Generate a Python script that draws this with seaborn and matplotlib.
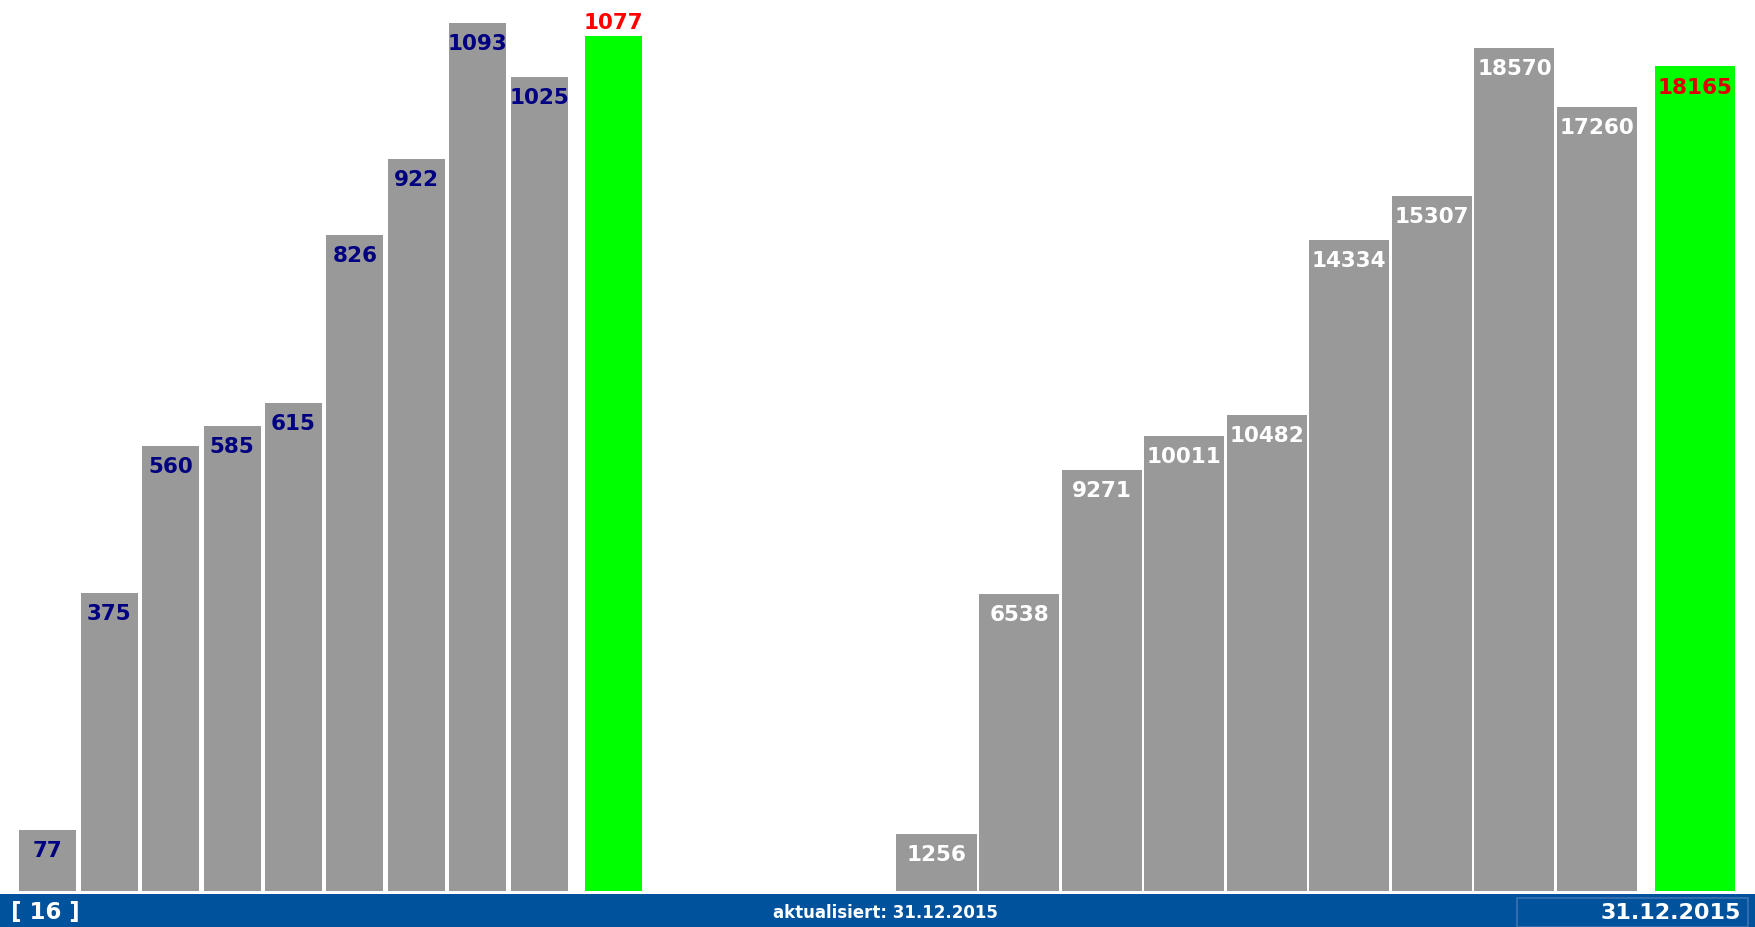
import matplotlib
matplotlib.use("Agg")
import matplotlib.pyplot as plt
from matplotlib.patches import Rectangle
import numpy as np
import pandas as pd
import seaborn as sns

# values
left_values = [77, 375, 560, 585, 615, 826, 922, 1093, 1025]
left_current = 1077
right_values = [1256, 6538, 9271, 10011, 10482, 14334, 15307, 18570, 17260]
right_current = 18165

page_label = "[ 16 ]"
updated_label = "aktualisiert: 31.12.2015"
date_label = "31.12.2015"

GRAY = "#999999"
GREEN = "#00FF00"
NAVY = "#000080"
RED = "#FF0000"
BAND = "#00529C"

sns.set_theme(style="white")
plt.rcParams["font.family"] = ["DejaVu Sans"]

W, H = 1756, 928
fig = plt.figure(figsize=(W / 100, H / 100), dpi=100)
fig.patch.set_facecolor("white")


def px_axes(x0, x1, y_top, y_bot):
    # axes box given in pixel coordinates (y measured from the top)
    return fig.add_axes([x0 / W, (H - y_bot) / H, (x1 - x0) / W, (y_bot - y_top) / H])


def draw_panel(ax, values, current, gap, width, label_color, ylim, xlim):
    n = len(values)
    pos = list(np.arange(n, dtype=float)) + [n - 1 + gap]
    df = pd.DataFrame({
        "pos": pos,
        "value": values + [current],
        "kind": ["past"] * n + ["now"],
    })
    sns.barplot(data=df, x="pos", y="value", hue="kind",
                palette={"past": GRAY, "now": GREEN}, native_scale=True,
                dodge=False, width=width, saturation=1, linewidth=0,
                legend=False, ax=ax)
    for p, v in zip(pos[:n], values):
        ax.annotate(str(v), (p, v), xytext=(0, -14.5), textcoords="offset points",
                    ha="center", va="center", color=label_color,
                    fontsize=15.5, fontweight="bold")
    ax.set_xlim(*xlim)
    ax.set_ylim(*ylim)
    ax.set_axis_off()
    return pos[-1]


ax_l = px_axes(0, 660, 0, 892)
g = draw_panel(ax_l, left_values, left_current, 1.21, 0.93, NAVY,
               (0, 1123), (-0.78, 9.97))
ax_l.annotate(str(left_current), (g, left_current), xytext=(0, 10),
              textcoords="offset points", ha="center", va="center",
              color=RED, fontsize=15.5, fontweight="bold")

ax_r = px_axes(880, 1756, 0, 892)
g = draw_panel(ax_r, right_values, right_current, 1.19, 0.97, "white",
               (0, 19640), (-0.684, 9.926))
ax_r.annotate(str(right_current), (g, right_current), xytext=(0, -15),
              textcoords="offset points", ha="center", va="center",
              color="#E00000", fontsize=15.5, fontweight="bold")

# footer band
fig.patches.append(Rectangle((0, 0), 1, 33 / H, transform=fig.transFigure,
                             facecolor=BAND, edgecolor="none", zorder=0))
fig.patches.append(Rectangle((1517 / W, 0), (1748 - 1517) / W, 29 / H,
                             transform=fig.transFigure, facecolor="none",
                             edgecolor="#3a72b2", linewidth=1.2, zorder=1))
yc = (H - 913) / H
fig.text(11 / W, yc, page_label, color="white", fontsize=16.5,
         fontweight="bold", ha="left", va="center")
fig.text(885 / W, yc, updated_label, color="white", fontsize=12,
         fontweight="bold", ha="center", va="center")
fig.text(1741 / W, yc, date_label, color="white", fontsize=16,
         fontweight="bold", ha="right", va="center")

fig.savefig("out.png", dpi=100, facecolor="white")
